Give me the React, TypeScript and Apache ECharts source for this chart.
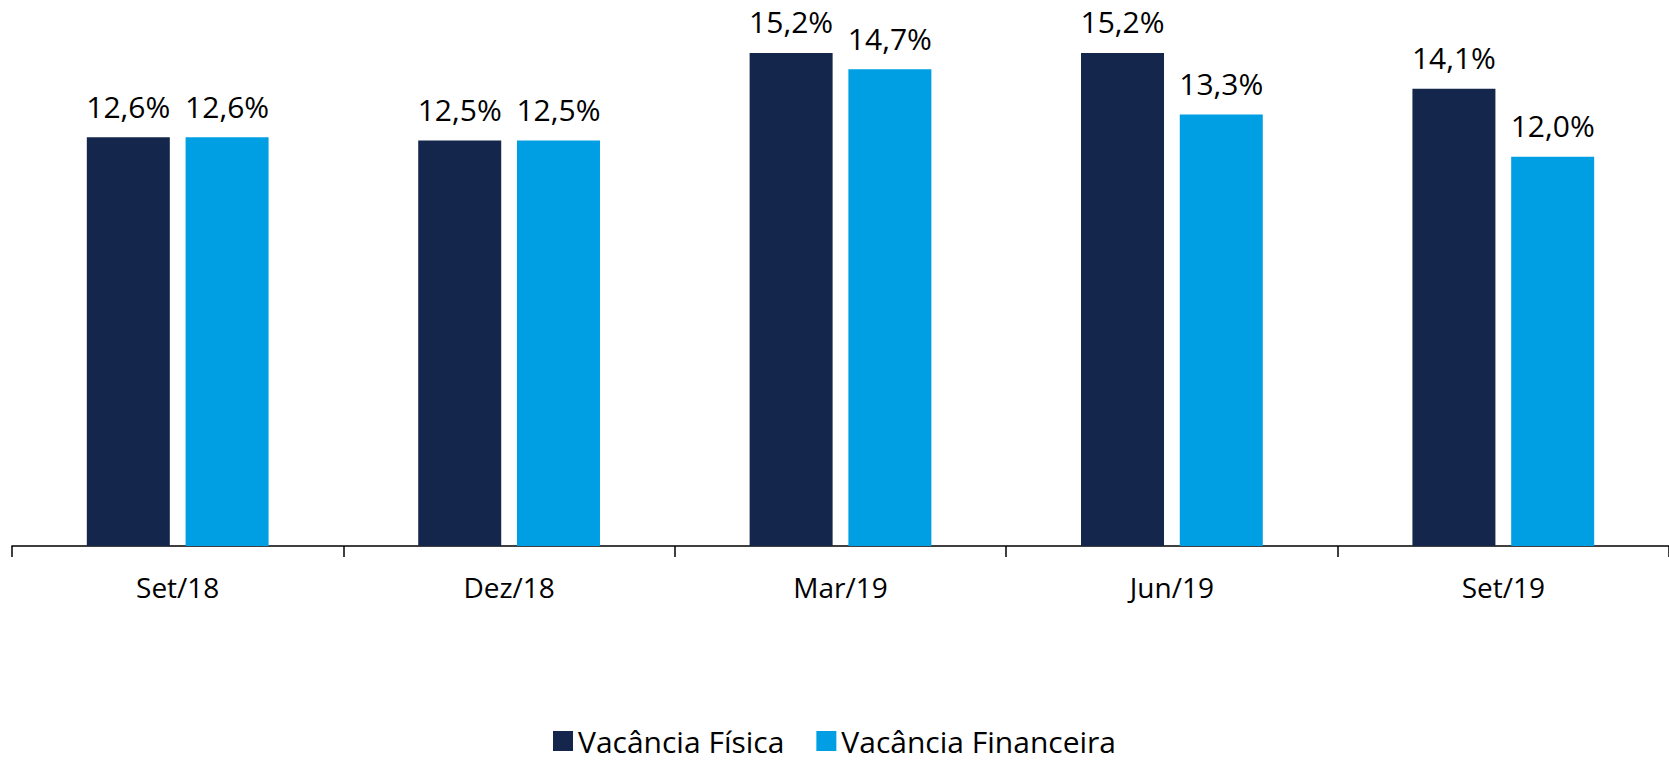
import React, { useEffect, useRef } from "react";
import * as echarts from "echarts";

const categories = ["Set/18", "Dez/18", "Mar/19", "Jun/19", "Set/19"];
const vacanciaFisica = [12.6, 12.5, 15.2, 15.2, 14.1];
const vacanciaFinanceira = [12.6, 12.5, 14.7, 13.3, 12.0];
const seriesNames = ["Vacância Física", "Vacância Financeira"];

const FONT = "'Open Sans', 'Noto Sans', sans-serif";

const fmt = (p: any) => Number(p.value).toFixed(1).replace(".", ",") + "%";

export default function App() {
  const ref = useRef<HTMLDivElement>(null);
  useEffect(() => {
    document.body.style.margin = "0";
    const chart = echarts.init(ref.current!, null, { renderer: "svg" });
    const label = {
      show: true,
      position: "top",
      distance: 16,
      formatter: fmt,
      color: "#000",
      fontSize: 30,
      fontFamily: FONT,
    };
    chart.setOption({
      animation: false,
      grid: { left: 12, top: 27, width: 1670, height: 519 },
      legend: {
        data: seriesNames,
        top: 724,
        left: "center",
        padding: 0,
        itemWidth: 20,
        itemHeight: 20,
        itemGap: 32,
        icon: "rect",
        textStyle: { color: "#000", fontSize: 30, lineHeight: 34, fontFamily: FONT },
      },
      xAxis: {
        type: "category",
        data: categories,
        axisLine: { lineStyle: { color: "#000", width: 1.5 } },
        axisTick: { show: true, length: 11, lineStyle: { color: "#000", width: 1.5 } },
        axisLabel: { color: "#000", fontSize: 28, fontFamily: FONT, margin: 27 },
      },
      yAxis: {
        type: "value",
        min: 0,
        max: 16,
        show: false,
        splitLine: { show: false },
      },
      series: [
        {
          name: seriesNames[0],
          type: "bar",
          data: vacanciaFisica,
          barWidth: 83,
          barGap: "19%",
          itemStyle: { color: "#15264C" },
          label,
        },
        {
          name: seriesNames[1],
          type: "bar",
          data: vacanciaFinanceira,
          barWidth: 83,
          barGap: "19%",
          itemStyle: { color: "#009FE3" },
          label,
        },
      ],
    });
    return () => chart.dispose();
  }, []);
  return <div ref={ref} style={{ width: 1669, height: 765 }} />;
}
